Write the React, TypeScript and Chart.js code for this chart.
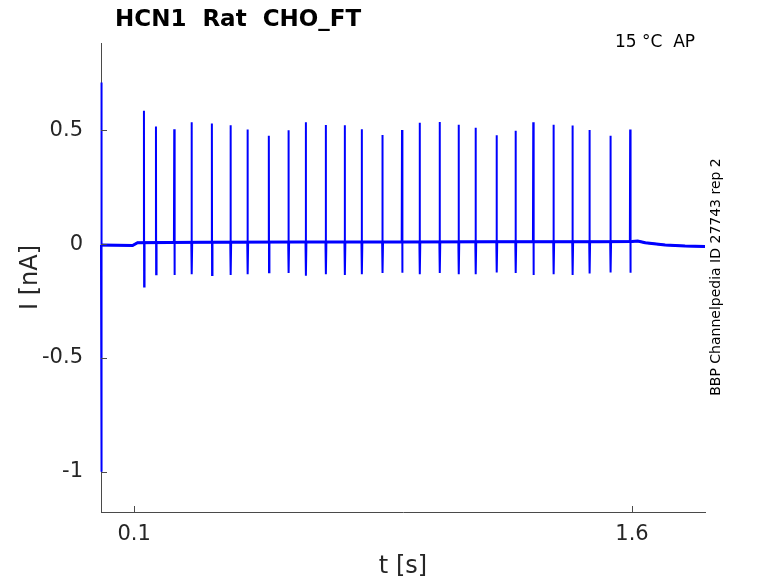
import React, { useEffect, useRef } from "react";
import { Chart, registerables } from "chart.js";

Chart.register(...registerables);

// ---- data ----
const titleText = "HCN1  Rat  CHO_FT";
const cornerText = "15 °C  AP";
const sideText = "BBP Channelpedia ID 27743 rep 2";
const xTitle = "t [s]";
const yTitle = "I [nA]";

const xTickValues = [0.1, 1.6];
const xTickLabels = ["0.1", "1.6"];
const yTickValues = [-1, -0.5, 0, 0.5];
const yTickLabels = ["-1", "-0.5", "0", "0.5"];

// initial capacitive transient
const transientT = [0.0, 0.0004, 0.0009, 0.0022];
const transientV = [-0.004, 0.71, -1.0, -0.004];

// baseline anchors (current between spikes)
const baselineT = [0.003, 0.05, 0.095, 0.11, 0.3, 0.6, 0.9, 1.2, 1.5, 1.6, 1.617, 1.64, 1.7, 1.76, 1.82];
const baselineV = [-0.004, -0.005, -0.006, 0.006, 0.008, 0.009, 0.01, 0.011, 0.011, 0.012, 0.014, 0.006, -0.004, -0.008, -0.01];

// spikes
const spikeT = [
  0.1294, 0.1656, 0.2207, 0.273, 0.3341, 0.3904, 0.4416, 0.5057, 0.565,
  0.6171, 0.6773, 0.7345, 0.7857, 0.848, 0.907, 0.9603, 1.0205, 1.0777,
  1.1288, 1.1921, 1.2493, 1.3025, 1.3636, 1.4208, 1.472, 1.5352, 1.5945,
];
const spikePeak = [
  0.586, 0.517, 0.505, 0.536, 0.53, 0.523, 0.504, 0.476, 0.501,
  0.536, 0.524, 0.523, 0.505, 0.48, 0.502, 0.534, 0.537, 0.525,
  0.512, 0.479, 0.498, 0.536, 0.525, 0.521, 0.502, 0.476, 0.504,
];
const spikeTrough = [
  -0.186, -0.132, -0.135, -0.132, -0.136, -0.135, -0.132, -0.123, -0.127,
  -0.139, -0.132, -0.135, -0.132, -0.127, -0.126, -0.132, -0.127, -0.132,
  -0.132, -0.125, -0.127, -0.135, -0.132, -0.135, -0.129, -0.125, -0.126,
];
const spikeBase = [
  0.007, 0.008, 0.008, 0.008, 0.008, 0.008, 0.009, 0.009, 0.009,
  0.009, 0.009, 0.009, 0.01, 0.01, 0.01, 0.01, 0.01, 0.011,
  0.011, 0.011, 0.011, 0.011, 0.011, 0.011, 0.011, 0.012, 0.012,
];

const FONT = "'DejaVu Sans', sans-serif";
const TEXT = "#262626";
const AXIS = "#4a4a4a";

function buildTrace() {
  const pts: { x: number; y: number }[] = [];
  transientT.forEach((t, i) => pts.push({ x: t, y: transientV[i] }));
  const items: { x: number; y: number }[] = [];
  baselineT.forEach((t, i) => items.push({ x: t, y: baselineV[i] }));
  spikeT.forEach((t, i) => {
    items.push({ x: t - 0.0009, y: spikeBase[i] });
    items.push({ x: t, y: spikePeak[i] });
    items.push({ x: t + 0.0006, y: spikeTrough[i] });
    items.push({ x: t + 0.0018, y: spikeBase[i] });
  });
  items.sort((a, b) => a.x - b.x);
  return pts.concat(items);
}

const extrasPlugin = {
  id: "extras",
  afterDraw(chart: any) {
    const { ctx, chartArea, scales } = chart;
    ctx.save();
    // inward ticks
    ctx.strokeStyle = AXIS;
    ctx.lineWidth = 1;
    ctx.beginPath();
    yTickValues.forEach((v) => {
      const y = Math.round(scales.y.getPixelForValue(v)) + 0.5;
      ctx.moveTo(chartArea.left, y);
      ctx.lineTo(chartArea.left + 6, y);
    });
    xTickValues.forEach((v) => {
      const x = Math.round(scales.x.getPixelForValue(v)) + 0.5;
      ctx.moveTo(x, chartArea.bottom);
      ctx.lineTo(x, chartArea.bottom - 6);
    });
    ctx.stroke();
    // title
    ctx.fillStyle = "#000";
    ctx.font = `bold 23px ${FONT}`;
    ctx.textAlign = "left";
    ctx.textBaseline = "alphabetic";
    ctx.fillText(titleText, 115, 26);
    // corner text
    ctx.font = `17px ${FONT}`;
    ctx.fillText(cornerText, 615, 47);
    // side text
    ctx.font = `14px ${FONT}`;
    ctx.translate(716, 277);
    ctx.rotate(-Math.PI / 2);
    ctx.textAlign = "center";
    ctx.textBaseline = "middle";
    ctx.fillText(sideText, 0, 0);
    ctx.restore();
  },
};

export default function App() {
  const ref = useRef<HTMLCanvasElement | null>(null);
  useEffect(() => {
    if (!ref.current) return;
    const chart = new Chart(ref.current, {
      type: "line",
      data: {
        datasets: [
          {
            data: baselineT.map((t, i) => ({ x: t, y: baselineV[i] })),
            borderColor: "#0000ff",
            borderWidth: 3,
            pointRadius: 0,
            tension: 0,
          },
          {
            data: buildTrace(),
            borderColor: "#0000ff",
            borderWidth: 2,
            pointRadius: 0,
            tension: 0,
            clip: { left: 3, top: 0, right: 0, bottom: 0 } as any,
          },
        ],
      },
      options: {
        animation: false,
        responsive: true,
        maintainAspectRatio: false,
        layout: { padding: { top: 43, right: 73, left: 0, bottom: 0 } },
        plugins: {
          legend: { display: false },
          tooltip: { enabled: false },
          title: { display: false },
        },
        scales: {
          x: {
            type: "linear",
            min: 0,
            max: 1.82,
            afterFit: (s: any) => {
              s.height = 71;
            },
            afterBuildTicks: (s: any) => {
              s.ticks = xTickValues.map((v) => ({ value: v }));
            },
            ticks: {
              autoSkip: false,
              maxRotation: 0,
              padding: 10,
              color: TEXT,
              font: { family: FONT, size: 21 },
              callback: (v: any) => {
                const i = xTickValues.indexOf(Number(v));
                return i >= 0 ? xTickLabels[i] : "";
              },
            },
            grid: { display: true, drawOnChartArea: false, drawTicks: false },
            border: { display: true, color: AXIS, width: 1 },
            title: {
              display: true,
              text: xTitle,
              color: TEXT,
              font: { family: FONT, size: 24 },
              padding: { top: 0, bottom: 2 },
            },
          },
          y: {
            type: "linear",
            min: -1.177,
            max: 0.884,
            afterFit: (s: any) => {
              s.width = 101;
            },
            afterBuildTicks: (s: any) => {
              s.ticks = yTickValues.map((v) => ({ value: v }));
            },
            ticks: {
              autoSkip: false,
              padding: 18,
              color: TEXT,
              font: { family: FONT, size: 21 },
              callback: (v: any) => {
                const i = yTickValues.indexOf(Number(v));
                return i >= 0 ? yTickLabels[i] : "";
              },
            },
            grid: { display: true, drawOnChartArea: false, drawTicks: false },
            border: { display: true, color: AXIS, width: 1 },
            title: {
              display: true,
              text: yTitle,
              color: TEXT,
              font: { family: FONT, size: 24 },
              padding: { top: 16, bottom: 0 },
            },
          },
        },
      },
      plugins: [extrasPlugin],
    });
    return () => chart.destroy();
  }, []);
  return (
    <div style={{ position: "absolute", left: 0, top: 0, width: 778, height: 583, background: "#fff" }}>
      <canvas ref={ref} />
    </div>
  );
}
